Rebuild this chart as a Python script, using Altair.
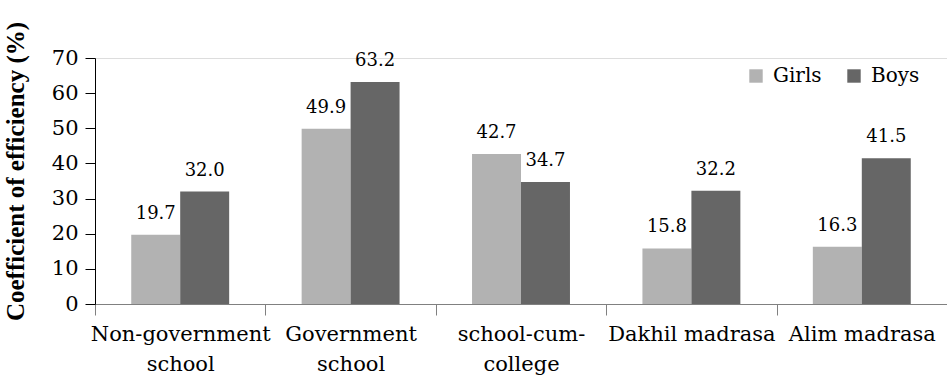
import altair as alt
import pandas as pd

categories = ["Non-government|school", "Government|school", "school-cum-|college",
              "Dakhil madrasa", "Alim madrasa"]
groups = ["Girls", "Boys"]
girls = [19.7, 49.9, 42.7, 15.8, 16.3]
boys = [32.0, 63.2, 34.7, 32.2, 41.5]
y_ticks = [0, 10, 20, 30, 40, 50, 60, 70]
colors = ["#b2b2b2", "#666666"]

rows = []
for c, g, b in zip(categories, girls, boys):
    rows.append({"cat": c, "group": "Girls", "value": g, "label": f"{g:.1f}"})
    rows.append({"cat": c, "group": "Boys", "value": b, "label": f"{b:.1f}"})
df = pd.DataFrame(rows)

SERIF = "DejaVu Serif"
TITLE_FONT = "Liberation Serif"

base = alt.Chart(df).encode(
    x=alt.X("cat:N", sort=categories,
            scale=alt.Scale(paddingInner=0, paddingOuter=0),
            axis=alt.Axis(title=None, labelAngle=0, labelExpr="split(datum.label, '|')",
                          labelFont=SERIF, labelFontSize=21, labelColor="#000000",
                          labelPadding=25, labelLineHeight=30, labelBaseline="alphabetic",
                          tickBand="extent", tickSize=11, tickColor="#808080",
                          domainColor="#808080", labelLimit=300, labelOverlap=False)),
    xOffset=alt.XOffset("group:N", sort=groups,
                        scale=alt.Scale(paddingInner=0, paddingOuter=0.74)),
    y=alt.Y("value:Q", scale=alt.Scale(domain=[0, 70], nice=False),
            axis=alt.Axis(title="Coefficient of efficiency (%)", values=y_ticks,
                          labelFont=SERIF, labelFontSize=21, labelColor="#000000",
                          labelPadding=7, tickSize=10, tickColor="#000000",
                          domainColor="#000000", grid=False, labelOverlap=False,
                          titleFont=TITLE_FONT, titleFontSize=25, titleFontWeight="bold",
                          titleColor="#000000", titleX=-80, titleY=113,
                          titleBaseline="middle", titleAlign="center")),
)

bars = base.mark_bar().encode(
    color=alt.Color("group:N", sort=groups,
                    scale=alt.Scale(domain=groups, range=colors),
                    legend=alt.Legend(title=None, orient="none", direction="horizontal",
                                      legendX=651, legendY=8, symbolType="square",
                                      symbolSize=180, symbolStrokeWidth=0,
                                      labelFont=SERIF, labelFontSize=20,
                                      labelColor="#000000", columnPadding=22,
                                      labelOffset=7, symbolOpacity=1)),
)

text = base.mark_text(font=SERIF, fontSize=18, baseline="alphabetic", dy=-16,
                      color="#000000").encode(text="label:N")

chart = (bars + text).properties(
    width=852, height=246,
    autosize=alt.AutoSizeParams(type="none"),
    padding={"left": 95, "top": 58, "right": 0, "bottom": 73},
).configure_view(stroke=None).configure(background="white", font=SERIF)

chart.save("out.html", embed_options={"renderer": "svg", "actions": False})
